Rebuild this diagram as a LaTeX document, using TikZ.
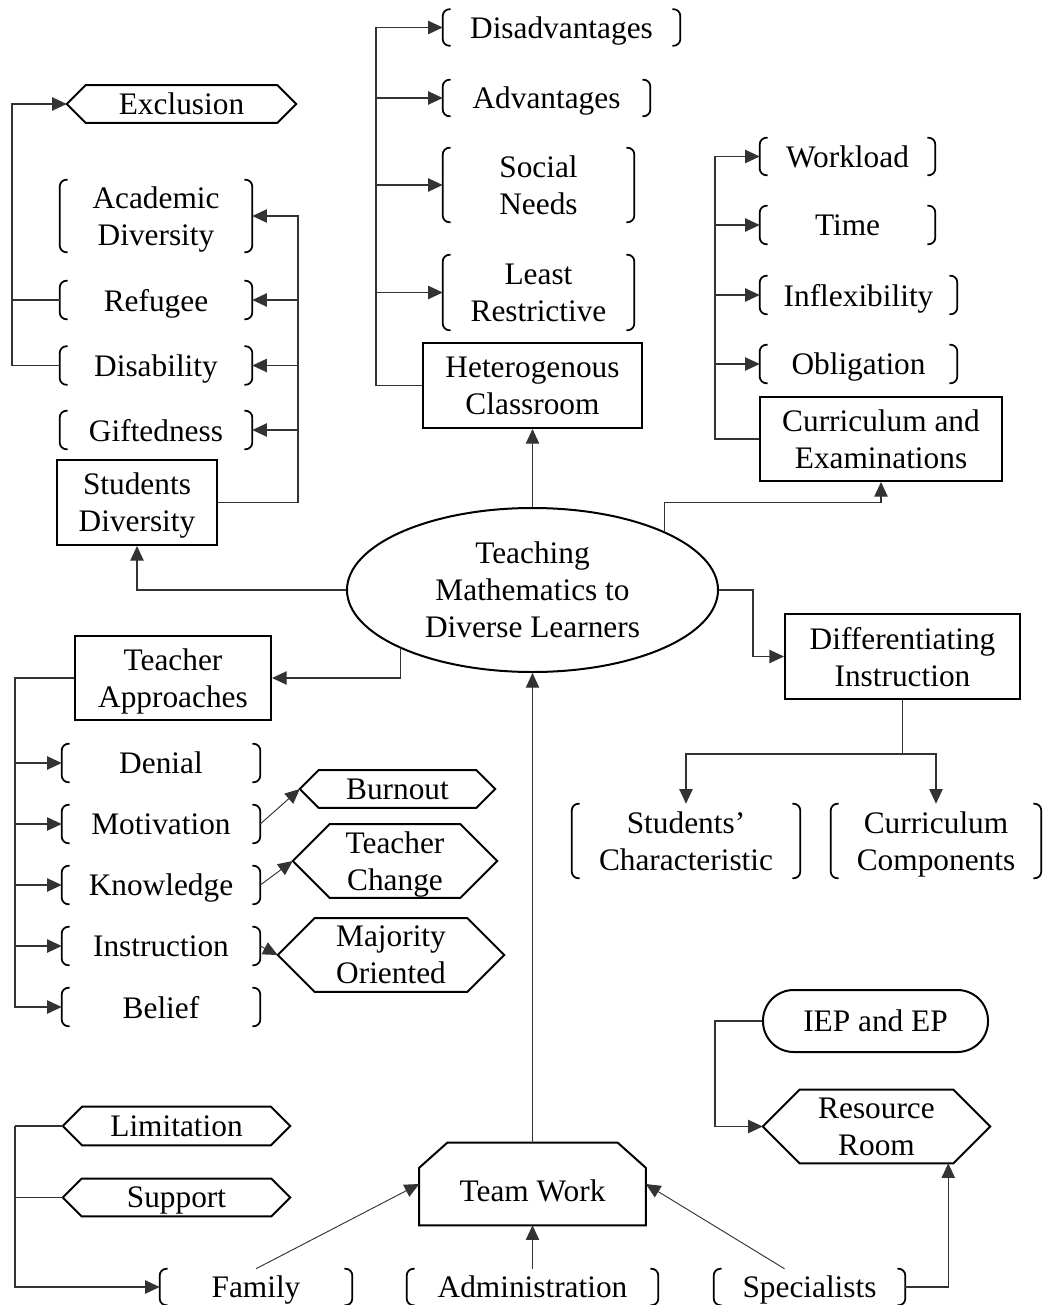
\documentclass[tikz,border=0pt]{standalone}
\usepackage{fontspec}
\setmainfont{Liberation Serif}
\usetikzlibrary{arrows.meta,calc,shapes.geometric}

% bracket pair drawn around a (borderless) node
\newcommand\bracketnode[1]{%
  \draw[line width=1.3pt, rounded corners=5pt]
    ([xshift=6pt]#1.north west) -- (#1.north west) -- (#1.south west) -- ([xshift=6pt]#1.south west);
  \draw[line width=1.3pt, rounded corners=5pt]
    ([xshift=-6pt]#1.north east) -- (#1.north east) -- (#1.south east) -- ([xshift=-6pt]#1.south east);}

% hexagon with pointed left and right ends around a (borderless) node
\newcommand\hexnode[1]{%
  \draw[line width=1.5pt] let \p1=(#1.north), \p2=(#1.south), \n1={0.5*(\y1-\y2)} in
    (#1.west) -- ([xshift=\n1]#1.north west) -- ([xshift=-\n1]#1.north east) -- (#1.east)
    -- ([xshift=-\n1]#1.south east) -- ([xshift=\n1]#1.south west) -- cycle;}

\begin{document}
\begin{tikzpicture}[x=0.75pt,y=-0.75pt,
  every node/.style={font=\fontsize{23.5pt}{27.75pt}\selectfont, align=center, inner sep=0pt,
                     text depth=0pt},
  sz/.style 2 args={minimum width=#1*0.75pt, minimum height=#2*0.75pt},
  box/.style={draw, line width=1.5pt, rectangle},
  bnode/.style={rectangle},
  link/.style={line width=1pt, draw=black!80},
  arr/.style={link, -{Triangle[length=11pt,width=10pt]}},
  slim/.style={line width=0.7pt, draw=black!80, -{Triangle[length=11pt,width=10pt]}},
]
\useasboundingbox (0,0) rectangle (1047,1305);

% central topic
\node[draw, ellipse, line width=1.5pt, sz={371}{164}] (main) at (532.5,590)
  {Teaching\\Mathematics to\\Diverse Learners};

% heterogenous classroom branch
\node[box, sz={219}{85}] (hc) at (532.5,385.5) {Heterogenous\\Classroom};
\node[bnode, sz={237}{36}] (disadv) at (561.5,27.5) {Disadvantages};
\node[bnode, sz={207}{36}] (adv) at (546.5,98) {Advantages};
\node[bnode, sz={191}{74}] (social) at (538.5,185) {Social\\Needs};
\node[bnode, sz={191}{75}] (least) at (538.5,292.5) {Least\\Restrictive};

% students diversity branch
\node[box, sz={160}{85}] (sd) at (137,502.5) {Students\\Diversity};
\node[bnode, sz={192}{72}] (acad) at (156,216) {Academic\\Diversity};
\node[bnode, sz={192}{38}] (refugee) at (156,300) {Refugee};
\node[bnode, sz={192}{38}] (disab) at (156,365.5) {Disability};
\node[bnode, sz={192}{38}] (gift) at (156,430) {Giftedness};
\node[bnode, sz={229}{37}] (excl) at (181.5,104) {Exclusion};

% curriculum branch
\node[box, sz={242}{84}] (ce) at (881,439) {Curriculum and\\Examinations};
\node[bnode, sz={175}{37}] (work) at (847.5,156.5) {Workload};
\node[bnode, sz={175}{38}] (time) at (847.5,225) {Time};
\node[bnode, sz={197}{38}] (infl) at (858.5,295) {Inflexibility};
\node[bnode, sz={197}{38}] (oblig) at (858.5,364) {Obligation};

% differentiating instruction branch
\node[box, sz={235}{85}] (di) at (902.5,656.5) {Differentiating\\Instruction};
\node[bnode, sz={228}{74}] (sc) at (686,841) {Students’\\Characteristic};
\node[bnode, sz={210}{74}] (cc) at (936,841) {Curriculum\\Components};

% teacher approaches branch
\node[box, sz={196}{84}] (ta) at (173,678) {Teacher\\Approaches};
\node[bnode, sz={198}{38}] (denial) at (161,763) {Denial};
\node[bnode, sz={198}{38}] (motiv) at (161,824) {Motivation};
\node[bnode, sz={198}{38}] (know) at (161,885) {Knowledge};
\node[bnode, sz={198}{38}] (instr) at (161,946) {Instruction};
\node[bnode, sz={198}{38}] (belief) at (161,1007) {Belief};
\node[bnode, sz={195}{37}] (burn) at (397.5,789) {Burnout};
\node[bnode, sz={204}{73}] (tchg) at (395,861) {Teacher\\Change};
\node[bnode, sz={226}{73}] (major) at (391,955) {Majority\\Oriented};

% team work branch (text sits below the chamfered top)
\node[bnode, sz={226}{82}, text height=25.5pt] (tw) at (532.5,1184) {Team Work};
\node[bnode, sz={192}{36}] (family) at (256,1287) {Family};
\node[bnode, sz={251}{36}] (admin) at (532.5,1287) {Administration};
\node[bnode, sz={191}{36}] (spec) at (809.5,1287) {Specialists};
\node[bnode, sz={227}{38}] (limit) at (176.5,1126) {Limitation};
\node[bnode, sz={227}{37}] (supp) at (176.5,1197.5) {Support};
\node[box, rounded corners=23pt, sz={225}{62}] (iep) at (875.5,1021) {IEP and EP};
\node[bnode, sz={227}{73}] (rr) at (876.5,1126.5) {Resource\\Room};

% outlines
\foreach \q in {disadv,adv,social,least,acad,refugee,disab,gift,work,time,infl,oblig,
                sc,cc,denial,motiv,know,instr,belief,family,admin,spec}
  {\bracketnode{\q}}
\foreach \q in {excl,burn,tchg,major,limit,supp,rr}
  {\hexnode{\q}}
\draw[line width=1.5pt] (tw.south west) -- ($(tw.north west)+(0,25)$) -- ($(tw.north west)+(28,0)$)
  -- ($(tw.north east)+(-28,0)$) -- ($(tw.north east)+(0,25)$) -- (tw.south east) -- cycle;

% connectors: heterogenous classroom
\draw[arr] (main.north) -- (hc.south);
\coordinate (hcT) at (376,385.5);
\draw[arr] (hc.west) -- (hcT) |- (disadv.west);
\foreach \q in {adv,social,least} \draw[arr] (hcT |- \q.west) -- (\q.west);

% connectors: students diversity
\draw[arr] (main.west) -| (sd.south);
\coordinate (sdT) at (298,502.5);
\draw[arr] (sd.east) -- (sdT) |- (acad.east);
\foreach \q in {refugee,disab,gift} \draw[arr] (sdT |- \q.east) -- (\q.east);
\coordinate (exT) at (12,365.5);
\draw[link] (refugee.west) -- (exT |- refugee.west);
\draw[arr] (disab.west) -- (exT) |- (excl.west);

% connectors: curriculum and examinations
\draw[arr] (main.24) -- ++(0,-29) -| (ce.south);
\coordinate (ceT) at (715,439);
\draw[arr] (ce.west) -- (ceT) |- (work.west);
\foreach \q in {time,infl,oblig} \draw[arr] (ceT |- \q.west) -- (\q.west);

% connectors: differentiating instruction
\draw[arr] (main.east) -- ++(34,0) |- (di.west);
\draw[link] (di.south) -- ++(0,54) coordinate (diJ);
\draw[arr] (diJ) -| (sc.north);
\draw[arr] (diJ) -| (cc.north);

% connectors: teacher approaches
\draw[arr] (main.204) |- (ta.east);
\coordinate (taT) at (15,678);
\draw[arr] (ta.west) -- (taT) |- (belief.west);
\foreach \q in {denial,motiv,know,instr} \draw[arr] (taT |- \q.west) -- (\q.west);
\draw[slim] (motiv.east) -- (burn.west);
\draw[slim] (know.east) -- (tchg.west);
\draw[slim] (instr.east) -- (major.west);

% connectors: team work
\draw[slim] (tw.north) -- (main.south);
\draw[slim] (family.north) -- (tw.west);
\draw[slim] (admin.north) -- (tw.south);
\draw[slim] ($(spec.north)+(-25,0)$) -- (tw.east);
\coordinate (lmT) at (15,1126);
\draw[link] (limit.west) -- (lmT);
\draw[link] (supp.west) -- (lmT |- supp.west);
\draw[arr] (lmT) |- (family.west);
\coordinate (ieT) at (715,1021);
\draw[arr] (iep.west) -- (ieT) |- (rr.west);
\draw[arr] (spec.east) -| ($(rr.south east)+(-42,0)$);
\end{tikzpicture}
\end{document}
